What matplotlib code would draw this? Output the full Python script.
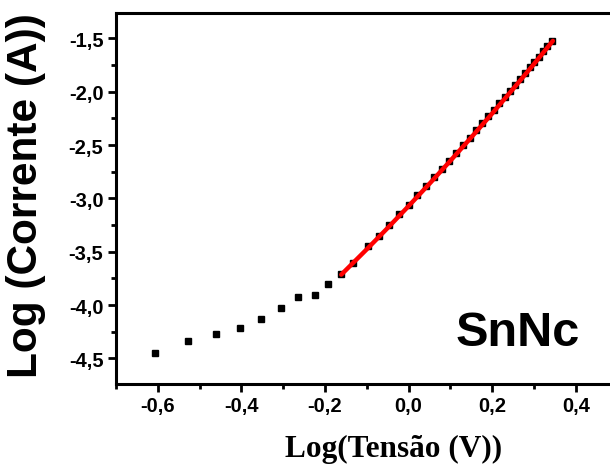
import numpy as np
import matplotlib
matplotlib.use("Agg")
import matplotlib.pyplot as plt
from matplotlib.ticker import MultipleLocator, FuncFormatter

# measured points: log10(V), log10(I)
log_v = [-0.607, -0.528, -0.461, -0.403, -0.352, -0.305, -0.265, -0.225, -0.193,
         -0.161, -0.132, -0.097, -0.071, -0.046, -0.022, 0.000, 0.021, 0.041,
         0.061, 0.079, 0.097, 0.114, 0.130, 0.146, 0.161, 0.176, 0.190, 0.204,
         0.217, 0.230, 0.243, 0.255, 0.267, 0.279, 0.290, 0.301, 0.312, 0.322,
         0.332, 0.342]
log_i = [-4.453, -4.337, -4.272, -4.216, -4.134, -4.028, -3.925, -3.906, -3.806,
         -3.707, -3.604, -3.45, -3.35, -3.25, -3.15, -3.06, -2.97, -2.885,
         -2.80, -2.72, -2.645, -2.57, -2.50, -2.43, -2.36, -2.295, -2.23, -2.17,
         -2.11, -2.05, -1.99, -1.935, -1.88, -1.825, -1.77, -1.72, -1.67, -1.62,
         -1.575, -1.525]

# red fitted curve
fit_x = [-0.161, -0.10, -0.05, 0.0, 0.05, 0.10, 0.15, 0.20, 0.25, 0.30, 0.345]
fit_y = [-3.715, -3.477, -3.277, -3.072, -2.862, -2.647, -2.427, -2.203, -1.973, -1.739, -1.523]

fig = plt.figure(figsize=(6.10, 4.77), dpi=100)
ax = fig.add_axes([0.190, 0.193, 0.8226, 0.778])

ax.plot(log_v, log_i, 's', color='black', markersize=5, zorder=2)
ax.plot(fit_x, fit_y, '-', color='red', linewidth=3.2, solid_capstyle='round', zorder=3)

ax.set_xlim(-0.7, 0.5)
ax.set_ylim(-4.74, -1.26)

ax.xaxis.set_major_locator(MultipleLocator(0.2))
ax.xaxis.set_minor_locator(MultipleLocator(0.1))
ax.yaxis.set_major_locator(MultipleLocator(0.5))
ax.yaxis.set_minor_locator(MultipleLocator(0.25))

comma = FuncFormatter(lambda v, p: ('%.1f' % v).replace('.', ',').replace('-0,0', '0,0'))
ax.xaxis.set_major_formatter(comma)
ax.yaxis.set_major_formatter(comma)

for s in ax.spines.values():
    s.set_linewidth(2.2)
ax.tick_params(which='major', direction='out', length=6, width=2, pad=3,
               top=False, right=False)
ax.tick_params(which='minor', direction='out', length=3.5, width=2,
               top=False, right=False)
for lab in ax.get_xticklabels() + ax.get_yticklabels():
    lab.set_fontfamily('Liberation Sans')
    lab.set_fontweight('bold')
    lab.set_fontsize(14.5)

ax.text(0.112, -4.375, 'SnNc', family='Liberation Sans', fontweight='bold',
        fontsize=35, ha='left', va='baseline')

fig.text(0.042, 0.59, 'Log (Corrente (A))', family='Liberation Sans', fontweight='bold',
         fontsize=30.5, rotation=90, ha='center', va='center')
fig.text(0.646, 0.042, 'Log(Tensão (V))', family='Liberation Serif', fontweight='bold',
         fontsize=22.5, ha='center', va='baseline')

fig.savefig('out.png', dpi=100)
